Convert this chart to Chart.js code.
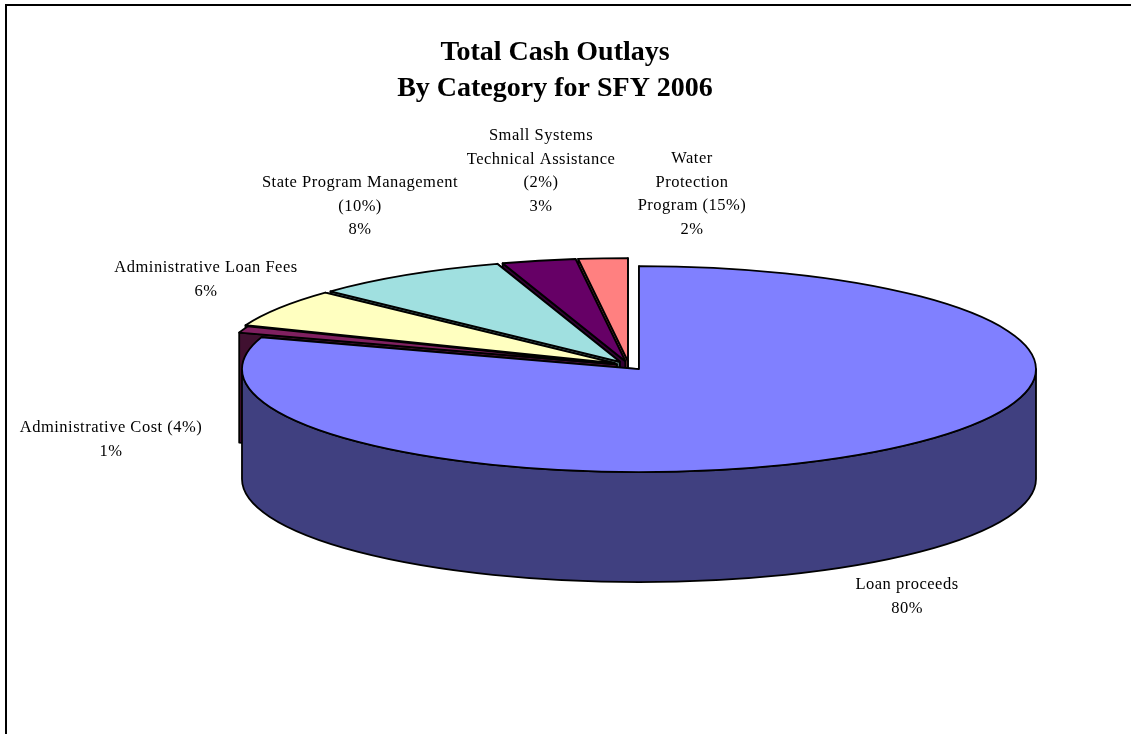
<!DOCTYPE html>
<html>
<head>
<meta charset="utf-8">
<title>Total Cash Outlays</title>
<script src="https://cdn.jsdelivr.net/npm/chart.js@4/dist/chart.umd.js"></script>
<style>
  html, body { margin: 0; padding: 0; background: #ffffff; overflow: hidden; }
  canvas { display: block; }
</style>
</head>
<body>
<canvas id="graficoPizza" width="1131" height="734"></canvas>
<script>
// dados do grafico
const tituloLinhas = ["Total Cash Outlays", "By Category for SFY 2006"];
const categorias = [
  ["Loan proceeds"],
  ["Administrative Cost (4%)"],
  ["Administrative Loan Fees"],
  ["State Program Management", "(10%)"],
  ["Small Systems", "Technical Assistance", "(2%)"],
  ["Water", "Protection", "Program (15%)"],
];
const valores = [80, 1, 6, 8, 3, 2];

// estilos de cada fatia
const coresTopo = ["#8080ff", "#802060", "#ffffc0", "#a0e0e0", "#660066", "#ff8080"];
const coresLateral = ["#404080", "#401030", "#808060", "#507070", "#330033", "#804040"];
const afastamento = [17, 13, 17, 17, 17, 17];

// posicao dos rotulos: centro em x e primeira linha em y
const rotuloX = [907, 111, 206, 360, 541, 692];
const rotuloY = [585, 428, 268, 183, 136, 159];

const raio = 397;
const achatamento = 103 / 397;
const profundidade = 110;
const espacoLinha = 23.5;
const espessura = 1.8;

// pizza inclinada: a fatia continua sendo o arco do Chart.js, so muda o desenho
class PizzaInclinada extends Chart.PieController {
  draw() {
    const ctx = this.chart.ctx;
    const arcos = this.getMeta().data;

    // de tras para frente; a fatia maior fica por ultimo
    const ordem = arcos.map((_, i) => i).slice(1).reverse();
    ordem.push(0);

    ordem.forEach((i) => {
      const arco = arcos[i];
      const meio = (arco.startAngle + arco.endAngle) / 2;
      const cx = arco.x + Math.cos(meio) * afastamento[i];
      const cy = arco.y + Math.sin(meio) * afastamento[i] * achatamento;

      desenharLateral(ctx, arco, cx, cy, coresLateral[i]);

      ctx.save();
      ctx.translate(cx, cy);
      ctx.scale(1, achatamento);
      ctx.translate(-arco.x, -arco.y);
      arco.draw(ctx);
      ctx.restore();

      ctx.save();
      ctx.beginPath();
      ctx.moveTo(cx, cy);
      ctx.ellipse(cx, cy, raio, raio * achatamento, 0, arco.startAngle, arco.endAngle);
      ctx.closePath();
      ctx.lineWidth = espessura;
      ctx.lineJoin = "round";
      ctx.strokeStyle = "#000000";
      ctx.stroke();
      ctx.restore();
    });
  }
}
PizzaInclinada.id = "pizzaInclinada";
PizzaInclinada.defaults = Chart.PieController.defaults;
Chart.register(PizzaInclinada);

function desenharLateral(ctx, arco, cx, cy, cor) {
  ctx.save();
  ctx.fillStyle = cor;
  ctx.strokeStyle = "#000000";
  ctx.lineWidth = espessura;
  ctx.lineJoin = "round";

  // faces dos cortes: a do fim fica atras da do inicio
  [arco.endAngle, arco.startAngle].forEach((angulo) => {
    const px = cx + Math.cos(angulo) * raio;
    const py = cy + Math.sin(angulo) * raio * achatamento;
    ctx.beginPath();
    ctx.moveTo(cx, cy);
    ctx.lineTo(px, py);
    ctx.lineTo(px, py + profundidade);
    ctx.lineTo(cx, cy + profundidade);
    ctx.closePath();
    ctx.fill();
    ctx.stroke();
  });

  // parede externa, so a parte virada para frente
  const ini = Math.max(arco.startAngle, 0);
  const fim = Math.min(arco.endAngle, Math.PI);
  if (fim > ini) {
    ctx.beginPath();
    ctx.ellipse(cx, cy, raio, raio * achatamento, 0, ini, fim);
    ctx.ellipse(cx, cy + profundidade, raio, raio * achatamento, 0, fim, ini, true);
    ctx.closePath();
    ctx.fill();
    ctx.stroke();
  }
  ctx.restore();
}

// titulo, rotulos e as linhas da moldura
const pluginTextos = {
  id: "textos",
  afterDraw(chart) {
    const ctx = chart.ctx;
    ctx.save();

    ctx.fillStyle = "#000000";
    ctx.fillRect(5, 4, 1126, 2);
    ctx.fillRect(5, 4, 2, 730);

    ctx.textAlign = "center";
    ctx.textBaseline = "middle";
    ctx.font = "bold 28px 'Liberation Serif'";
    tituloLinhas.forEach((linha, i) => ctx.fillText(linha, 555, 53 + i * 36));

    ctx.font = "16.5px 'Liberation Serif'";
    ctx.letterSpacing = "0.5px";
    categorias.forEach((linhas, i) => {
      linhas.concat(valores[i] + "%").forEach((linha, j) => {
        ctx.fillText(linha, rotuloX[i], rotuloY[i] + j * espacoLinha);
      });
    });
    ctx.restore();
  },
};

new Chart(document.getElementById("graficoPizza"), {
  type: "pizzaInclinada",
  data: {
    labels: categorias.map((linhas) => linhas.join(" ")),
    datasets: [
      {
        data: valores,
        backgroundColor: coresTopo,
        borderWidth: 0,
        radius: raio,
        cutout: 0,
        clip: false,
      },
    ],
  },
  options: {
    responsive: false,
    animation: false,
    events: [],
    layout: { padding: { left: 127, bottom: 3 } },
    plugins: {
      legend: { display: false },
      tooltip: { enabled: false },
    },
  },
  plugins: [pluginTextos],
});
</script>
</body>
</html>
